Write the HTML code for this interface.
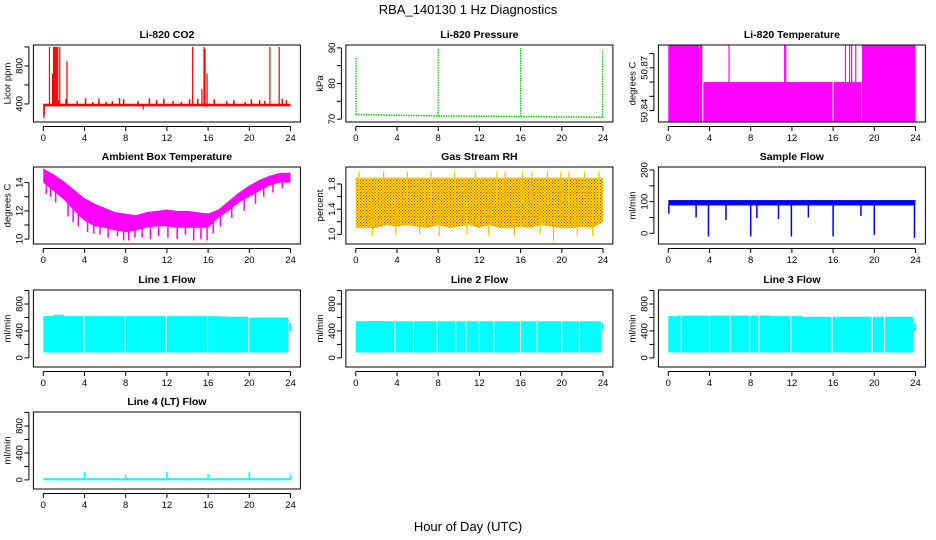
<!DOCTYPE html>
<html><head><meta charset="utf-8">
<style>
html,body{margin:0;padding:0;background:#fff;}
svg{display:block;font-family:"Liberation Sans",Arial,sans-serif;}
</style></head>
<body>
<svg id="chart" width="936" height="540" viewBox="0 0 936 540">
<defs>
<pattern id="rhpat" width="3" height="3" patternUnits="userSpaceOnUse">
<rect width="3" height="3" fill="#FFE000"/><rect width="1" height="1" fill="#FF2000"/><rect x="1.5" y="1.5" width="1" height="1" fill="#FF2000"/>
</pattern>
</defs>
<text x="468" y="14" text-anchor="middle" font-size="13">RBA_140130  1 Hz Diagnostics</text>
<text x="468" y="531" text-anchor="middle" font-size="13">Hour of Day (UTC)</text>
</svg>
<script>
// ---------- data ----------
const xTicks=[0,4,8,12,16,20,24];
// CO2
const co2Base=390;
const co2SpikeHours=[0.05,0.1,0.6,0.9,1.0,1.1,1.2,1.3,1.4,1.5,1.6,2.3,14.5,15.4,15.6,15.7,15.9,22.0,22.9,9.7,15.8];
const co2SpikeVals=[250,280,1000,720,1000,1000,1000,1000,1000,440,1000,850,1000,560,1000,980,720,1000,1000,340,370];
const co2BumpHours=[2.2,3.3,4.1,4.8,5.4,6.1,6.7,7.4,7.8,9.2,10.3,11.0,11.7,12.6,13.4,14.2,15.0,16.6,17.8,18.5,19.6,20.2,21.0,21.5,23.2,23.6];
const co2BumpVals=[450,430,460,420,455,420,430,460,450,430,460,440,455,430,420,450,455,450,430,440,420,450,440,430,455,440];
// Pressure
const presHours=[0,2,4,6,8,10,12,14,16,18,20,22,24];
const presVals=[71.3,71.2,71.1,71.0,70.9,70.9,70.8,70.8,70.7,70.7,70.6,70.6,70.5];
const presSpikeHours=[0.03,8.0,16.0,23.95];
const presSpikeVals=[87.5,90,90,89];
// Li-820 temperature
const tempSegStart=[0,3.05,3.35,18.8];
const tempSegEnd=[3.0,3.3,18.75,24];
const tempSegTop=[50.886,50.886,50.860,50.886];
const tempSpikeHours=[3.1,5.9,11.3,11.4,17.2,17.6,17.8,18.2];
const tempGapHours=[3.35,16.0];
const tempBottom=50.832;
// Ambient box temperature
const ambHours=[0,1,2,3,4,5,6,7,8,9,10,11,12,13,14,15,16,17,18,19,20,21,22,23,24];
const ambHigh=[15.0,14.6,14.1,13.5,12.9,12.5,12.2,11.9,11.8,11.7,11.9,12.0,12.1,12.0,12.0,11.9,11.8,12.1,12.7,13.3,13.8,14.2,14.5,14.7,14.7];
const ambLow=[14.0,13.4,12.8,12.0,11.3,10.9,10.8,10.6,10.5,10.6,10.8,10.9,10.9,10.8,10.8,10.8,10.8,11.5,12.0,12.6,13.0,13.4,13.8,14.0,14.0];
const ambDipHours=[0.3,0.7,1.2,2.4,2.9,3.4,4.3,4.9,5.5,6.3,7.2,7.8,8.3,8.9,9.6,10.4,11.2,12.1,13.0,13.8,14.6,15.3,15.9,16.5,17.2,18.3,19.5,20.6,21.4,22.3,23.2];
const ambDipVals=[13.2,13.0,12.6,11.6,11.2,10.9,10.5,10.4,10.3,10.1,10.2,9.9,9.9,10.1,10.1,10.0,10.2,10.1,10.0,10.3,9.9,10.0,9.9,10.4,10.9,11.5,12.0,12.5,13.0,13.3,13.6];
// Gas stream RH
const rhHours=[0,1,2,3,4,5,6,7,8,9,10,11,12,13,14,15,16,17,18,19,20,21,22,23,24];
const rhHigh=[1.9,1.9,1.9,1.9,1.9,1.9,1.9,1.9,1.9,1.9,1.9,1.9,1.9,1.9,1.9,1.9,1.9,1.9,1.9,1.9,1.9,1.9,1.9,1.9,1.9];
const rhLow=[1.1,1.1,1.1,1.15,1.12,1.15,1.12,1.1,1.15,1.1,1.12,1.15,1.1,1.15,1.1,1.1,1.12,1.1,1.15,1.12,1.1,1.1,1.12,1.1,1.2];
const rhSpikeHours=[0.3,1.6,2.7,3.9,5.0,6.2,7.3,8.1,9.6,10.8,11.6,12.9,13.7,14.5,15.4,16.2,17.1,17.9,18.6,19.2,19.9,20.7,21.5,22.2,23.0,23.6];
const rhSpikeVals=[2.0,0.97,2.0,0.98,2.0,1.0,2.0,0.97,2.0,1.0,2.0,0.98,2.0,2.0,0.98,2.0,2.0,1.0,2.0,0.9,2.0,2.0,0.98,2.0,0.97,2.0];
// Sample flow
const sfHigh=105, sfLow=88;
const sfDipHours=[0.05,2.7,3.9,5.6,8.0,8.6,10.7,11.95,13.6,16.0,18.7,20.0,23.9];
const sfDipVals=[62,50,-10,42,-10,48,45,-10,50,-10,55,-5,-15];
// Line flows
const flowHours=[0,1,2,3,4,5,6,7,8,9,10,11,12,13,14,15,16,17,18,19,20,21,22,23,23.7];
const line1Top=[620,640,620,620,620,620,620,620,620,620,620,620,620,620,620,620,620,615,610,610,600,600,600,600,600];
const line2Top=[545,548,548,545,545,545,545,545,545,545,545,545,545,545,545,545,545,545,545,545,545,545,545,545,545];
const line3Top=[620,630,630,630,630,630,630,630,630,630,620,620,620,610,610,610,610,610,610,610,610,610,610,610,605];
const flowLow=80;
const line1Gaps=[3.95,7.95,11.95,15.95,19.95];
const line2Gaps=[3.8,5.6,7.9,9.7,10.7,12.0,13.4,16.0,17.6,20.0,21.7];
const line3Gaps=[1.26,4.0,6.0,7.9,8.8,11.9,15.9,19.8,21.0];
const line4Base=10;
const line4SpikeHours=[4,8,12,16,20,24];
const line4SpikeVals=[120,80,120,90,120,80];

// ---------- layout ----------
const NS="http://www.w3.org/2000/svg";
const svg=document.getElementById('chart');
const colLeft=[33.4,345.9,658.4], boxW=267, rowTop=[45,167,290,412], boxH=77;
function mk(tag,attrs,parent){const e=document.createElementNS(NS,tag);for(const k in attrs)e.setAttribute(k,attrs[k]);(parent||svg).appendChild(e);return e;}

function panel(name,col,row,title,ylab,ymin,ymax,yt,ylabels){
  const L=colLeft[col],T=rowTop[row],R=L+boxW,B=T+boxH;
  const g=mk('g',{});
  
  
  const xmin=-0.96,xmax=24.96;
  const sx=h=>L+(h-xmin)/(xmax-xmin)*boxW;
  const sy=v=>B-(v-ymin)/(ymax-ymin)*boxH;
  const plot=mk('g',{},g);
  
  
  const ax=mk('g',{stroke:'#000','stroke-width':1,fill:'none'},g);
  const box=mk('rect',{x:L,y:T,width:boxW,height:boxH},ax);
  
  
  mk('line',{x1:sx(0),x2:sx(24),y1:B+4.5,y2:B+4.5},ax);
  xTicks.forEach(t=>{mk('line',{x1:sx(t),x2:sx(t),y1:B+4.5,y2:B+9},ax);
    const tx=mk('text',{x:sx(t),y:B+19,'text-anchor':'middle','font-size':9.5,fill:'#000',stroke:'none'},g);
    tx.textContent=t;
    
    });
  mk('line',{y1:sy(yt[0]),y2:sy(yt[yt.length-1]),x1:L-4.5,x2:L-4.5},ax);
  yt.forEach((t,i)=>{const y=sy(t);mk('line',{x1:L-9,x2:L-4.5,y1:y,y2:y},ax);
    if(ylabels[i]){const tx=mk('text',{x:0,y:0,transform:`translate(${L-11},${y}) rotate(-90)`,'text-anchor':'middle','font-size':9.5,fill:'#000',stroke:'none'},g);
      tx.textContent=ylabels[i];
      
      }});
  const ti=mk('text',{x:(L+R)/2,y:T-7,'text-anchor':'middle','font-size':10.5,'font-weight':'bold'},g);
  ti.textContent=title;
  
  
  const yl=mk('text',{x:0,y:0,transform:`translate(${L-23},${(T+B)/2}) rotate(-90)`,'text-anchor':'middle','font-size':9.5},g);
  yl.textContent=ylab;
  
  
  return {plot,sx,sy};
}
function vline(p,h,v1,v2,col,w){return mk('line',{x1:p.sx(h),x2:p.sx(h),y1:p.sy(v1),y2:p.sy(v2),stroke:col,'stroke-width':w||1.2},p.plot);}
function band(p,hs,hi,lo,fill){let d='M'+hs.map((h,i)=>p.sx(h)+','+p.sy(hi[i])).join('L');
  for(let i=hs.length-1;i>=0;i--)d+='L'+p.sx(hs[i])+','+p.sy(lo[i]);
  return mk('path',{d:d+'Z',fill:fill,stroke:'none'},p.plot);}
function stepBand(p,hs,tops,low,fill){let d='';
  hs.forEach((h,i)=>{const h2=i<hs.length-1?hs[i+1]:h+0.1;d+=`M${p.sx(h)},${p.sy(low)}V${p.sy(tops[i])}H${p.sx(h2)}V${p.sy(low)}Z`;});
  return mk('path',{d:d,fill:fill,stroke:'none'},p.plot);}

// 1 CO2
let p=panel('co2',0,0,'Li-820 CO2','Licor ppm',210,1020,[400,600,800,1000],['400','','800','']);
mk('rect',{x:p.sx(0),y:p.sy(co2Base+12),width:p.sx(24)-p.sx(0),height:p.sy(co2Base-15)-p.sy(co2Base+12),fill:'#f00'},p.plot);
co2BumpHours.forEach((h,i)=>vline(p,h,co2Base,co2BumpVals[i],'#f00',1.5));
co2SpikeHours.forEach((h,i)=>vline(p,h,co2Base,co2SpikeVals[i],'#f00',1.2));

// 2 Pressure
p=panel('pressure',1,0,'Li-820 Pressure','kPa',69.2,90.8,[70,75,80,85,90],['70','','80','','90']);
mk('polyline',{points:presHours.map((h,i)=>p.sx(h)+','+p.sy(presVals[i])).join(' '),fill:'none',stroke:'#00CD00','stroke-width':1.5,'stroke-dasharray':'1.5,1'},p.plot);
presSpikeHours.forEach((h,i)=>{const l=vline(p,h,presVals[Math.round(h/2)],presSpikeVals[i],'#00CD00',1.2);l.setAttribute('stroke-dasharray','1.5,1');});

// 3 Li-820 Temp
p=panel('li820-temp',2,0,'Li-820 Temperature','degrees C',50.832,50.886,[50.84,50.85,50.86,50.87,50.88],['50.84','','','50.87','']);
tempSegStart.forEach((s,i)=>mk('rect',{x:p.sx(s),y:p.sy(tempSegTop[i]),width:p.sx(tempSegEnd[i])-p.sx(s),height:p.sy(tempBottom)-p.sy(tempSegTop[i]),fill:'#f0f'},p.plot));
tempSpikeHours.forEach(h=>vline(p,h,tempBottom,50.886,'#f0f',1.2));
tempGapHours.forEach(h=>vline(p,h,tempBottom,50.860,'#fff',1));

// 4 Ambient
p=panel('ambient-temp',0,1,'Ambient Box Temperature','degrees C',9.65,15.11,[10,11,12,13,14],['10','','12','','14']);
band(p,ambHours,ambHigh,ambLow,'#f0f');
ambDipHours.forEach((h,i)=>vline(p,h,ambHigh[Math.round(h)]-0.4,ambDipVals[i],'#f0f',1.5));

// 5 RH
p=panel('gas-rh',1,1,'Gas Stream RH','percent',0.846,2.07,[1.0,1.2,1.4,1.6,1.8],['1.0','','1.4','','1.8']);
band(p,rhHours,rhHigh,rhLow,'url(#rhpat)');
rhSpikeHours.forEach((h,i)=>{const l=vline(p,h,1.5,rhSpikeVals[i],'#FFC000',1.2);});

// 6 Sample flow
p=panel('sample-flow',2,1,'Sample Flow','ml/min',-33.8,209.5,[0,50,100,150,200],['0','','100','','200']);
mk('rect',{x:p.sx(0),y:p.sy(sfHigh),width:p.sx(24)-p.sx(0),height:p.sy(sfLow)-p.sy(sfHigh),fill:'#00f'},p.plot);
sfDipHours.forEach((h,i)=>vline(p,h,sfLow,sfDipVals[i],'#00f',1.5));

// 7-9 line flows
const flowTicks=[0,200,400,600,800,1000], flowLabels=['0','','400','','800',''];
function flowPanel(name,col,row,title,tops,gaps){
  const q=panel(name,col,row,title,'ml/min',-135,1008,flowTicks,flowLabels);
  stepBand(q,flowHours,tops,flowLow,'#0ff');
  gaps.forEach(h=>vline(q,h,flowLow,tops[Math.floor(h)],'#fff',1));
  vline(q,23.95,400,520,'#0ff',2);
  return q;
}
flowPanel('line1-flow',0,2,'Line 1 Flow',line1Top,line1Gaps);
flowPanel('line2-flow',1,2,'Line 2 Flow',line2Top,line2Gaps);
flowPanel('line3-flow',2,2,'Line 3 Flow',line3Top,line3Gaps);

// 10 line 4
p=panel('line4-flow',0,3,'Line 4 (LT) Flow','ml/min',-135,1008,flowTicks,flowLabels);
mk('line',{x1:p.sx(0),x2:p.sx(24),y1:p.sy(line4Base),y2:p.sy(line4Base),stroke:'#0ff','stroke-width':2},p.plot);
line4SpikeHours.forEach((h,i)=>vline(p,h,line4Base,line4SpikeVals[i],'#0ff',1.5));
</script>
</body></html>
